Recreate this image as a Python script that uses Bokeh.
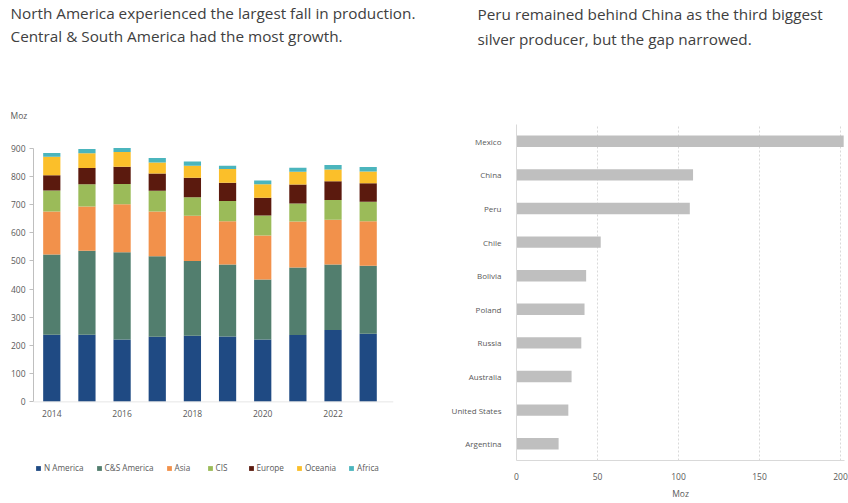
from bokeh.plotting import figure
from bokeh.models import (Range1d, FixedTicker, Legend, LegendItem,
                          ColumnDataSource, Title, Span)
from bokeh.layouts import row
from bokeh.embed import file_html
from bokeh.resources import INLINE
from bokeh.core.properties import value

# ---------------- data ----------------
years = [2014, 2015, 2016, 2017, 2018, 2019, 2020, 2021, 2022, 2023]
n_america = [238, 238, 221, 231, 235, 232, 221, 237, 255, 242]
cs_america = [285, 298, 310, 286, 265, 255, 213, 240, 232, 241]
asia = [152, 157, 170, 158, 160, 154, 156, 163, 159, 158]
cis = [75, 79, 72, 74, 66, 72, 71, 64, 70, 69]
europe = [54, 58, 61, 61, 69, 64, 63, 67, 67, 66]
oceania = [66, 52, 52, 39, 43, 49, 48, 45, 41, 41]
africa = [13, 15, 15, 16, 15, 12, 13, 15, 16, 16]
regions = ["N America", "C&S America", "Asia", "CIS", "Europe", "Oceania", "Africa"]
region_colors = ["#1F4A83", "#527E6E", "#F2914B", "#9BBB59", "#5B1A0E", "#FBBF2A", "#4BB5BD"]
year_ticks = [2014, 2016, 2018, 2020, 2022]
left_ticks = [0, 100, 200, 300, 400, 500, 600, 700, 800, 900]

countries = ["Mexico", "China", "Peru", "Chile", "Bolivia", "Poland", "Russia",
             "Australia", "United States", "Argentina"]
production = [202, 109, 107, 52, 43, 42, 40, 34, 32, 26]
right_ticks = [0, 50, 100, 150, 200]
grid_ticks = [50, 100, 150, 200]

FONT = "Open Sans"
TXT = "#404040"
TICK = "#595959"
TSIZE = "15.3px"
SPACER = "\u200b"


def title(text, size, standoff, offset, color=TXT):
    return Title(text=text, align="left", offset=offset, standoff=standoff,
                 text_font=FONT, text_font_size=size, text_font_style="normal",
                 text_color=color)


# ---------------- left chart ----------------
src = ColumnDataSource(dict(year=years, **{
    "N America": n_america, "C&S America": cs_america, "Asia": asia,
    "CIS": cis, "Europe": europe, "Oceania": oceania, "Africa": africa}))

p = figure(output_backend="svg", toolbar_location=None, x_axis_location=None,
           frame_width=360, frame_height=336,
           min_border_left=33, min_border_right=55, min_border_top=124, min_border_bottom=43,
           x_range=Range1d(2013.48, 2023.72), y_range=Range1d(-208, 984))
p.outline_line_color = None
p.grid.visible = False
p.add_layout(Span(location=0, dimension="width", line_color="#E6E6E6", line_width=1))
rends = p.vbar_stack(regions, x="year", width=0.49, source=src,
                     fill_color=region_colors, line_color=None)

# year labels under the baseline
p.text(x=year_ticks, y=[0] * len(year_ticks), text=[str(y) for y in year_ticks],
       text_align="center", text_baseline="middle", y_offset=12,
       text_font=value(FONT), text_font_size="8.5px", text_color=TICK)

p.yaxis.ticker = FixedTicker(ticks=left_ticks)
p.yaxis.bounds = (0, 900)
p.yaxis.axis_line_color = "#BFBFBF"
p.yaxis.major_tick_line_color = "#BFBFBF"
p.yaxis.major_tick_out = 4
p.yaxis.major_tick_in = 0
p.yaxis.minor_tick_line_color = None
p.yaxis.major_label_standoff = 4
p.yaxis.major_label_text_font = FONT
p.yaxis.major_label_text_font_size = "8.5px"
p.yaxis.major_label_text_color = TICK

legend = Legend(items=[LegendItem(label=r, renderers=[rr]) for r, rr in zip(regions, rends)],
                orientation="horizontal", location="top_left",
                glyph_width=6, glyph_height=6, label_height=10, label_standoff=3, spacing=12,
                label_text_font=FONT, label_text_font_size="8.2px",
                label_text_color=TICK, border_line_color=None,
                background_fill_alpha=0, padding=0, margin=2)
p.add_layout(legend, "below")

p.add_layout(title("Moz", "8.5px", 8, -23, TICK), "above")
p.add_layout(title(SPACER, "1px", 54, -23, "#FFFFFF"), "above")
p.add_layout(title("Central & South America had the most growth.", TSIZE, 1, -23), "above")
p.add_layout(title("North America experienced the largest fall in production.", TSIZE, 1, -23), "above")

# ---------------- right chart ----------------
ypos = [len(countries) - 1 - i for i in range(len(countries))]
src2 = ColumnDataSource(dict(y=ypos, country=countries, production=production))
p2 = figure(output_backend="svg", toolbar_location=None,
            frame_width=328, frame_height=336,
            min_border_left=64, min_border_right=8, min_border_top=124, min_border_bottom=43,
            x_range=Range1d(0, 202.5), y_range=Range1d(-0.5, len(countries) - 0.5))
p2.outline_line_color = None
p2.ygrid.visible = False
p2.xgrid.ticker = FixedTicker(ticks=grid_ticks)
p2.xgrid.grid_line_color = "#D9D9D9"
p2.xgrid.grid_line_dash = "2 2"
p2.hbar(y="y", right="production", left=0, height=0.34, source=src2,
        fill_color="#BFBFBF", line_color=None)

p2.xaxis.ticker = FixedTicker(ticks=right_ticks)
p2.xaxis.axis_line_color = "#D9D9D9"
p2.xaxis.major_tick_line_color = None
p2.xaxis.minor_tick_line_color = None
p2.xaxis.major_label_standoff = 6
p2.xaxis.major_label_text_font = FONT
p2.xaxis.major_label_text_font_size = "8.5px"
p2.xaxis.major_label_text_color = TICK
p2.xaxis.axis_label = "Moz"
p2.xaxis.axis_label_standoff = 5
p2.xaxis.axis_label_text_font = FONT
p2.xaxis.axis_label_text_font_style = "normal"
p2.xaxis.axis_label_text_font_size = "8.5px"
p2.xaxis.axis_label_text_color = TICK

p2.yaxis.ticker = FixedTicker(ticks=ypos)
p2.yaxis.major_label_overrides = {y: c for y, c in zip(ypos, countries)}
p2.yaxis.axis_line_color = "#D9D9D9"
p2.yaxis.major_tick_line_color = None
p2.yaxis.minor_tick_line_color = None
p2.yaxis.major_label_standoff = 9
p2.yaxis.major_label_text_font = FONT
p2.yaxis.major_label_text_font_size = "8px"
p2.yaxis.major_label_text_color = TICK

p2.add_layout(title(SPACER, "1px", 71, -39, "#FFFFFF"), "above")
p2.add_layout(title("silver producer, but the gap narrowed.", TSIZE, 3, -39), "above")
p2.add_layout(title("Peru remained behind China as the third biggest", TSIZE, 3, -39), "above")

layout = row(p, p2)
open("out.html", "w").write(file_html(layout, INLINE))
